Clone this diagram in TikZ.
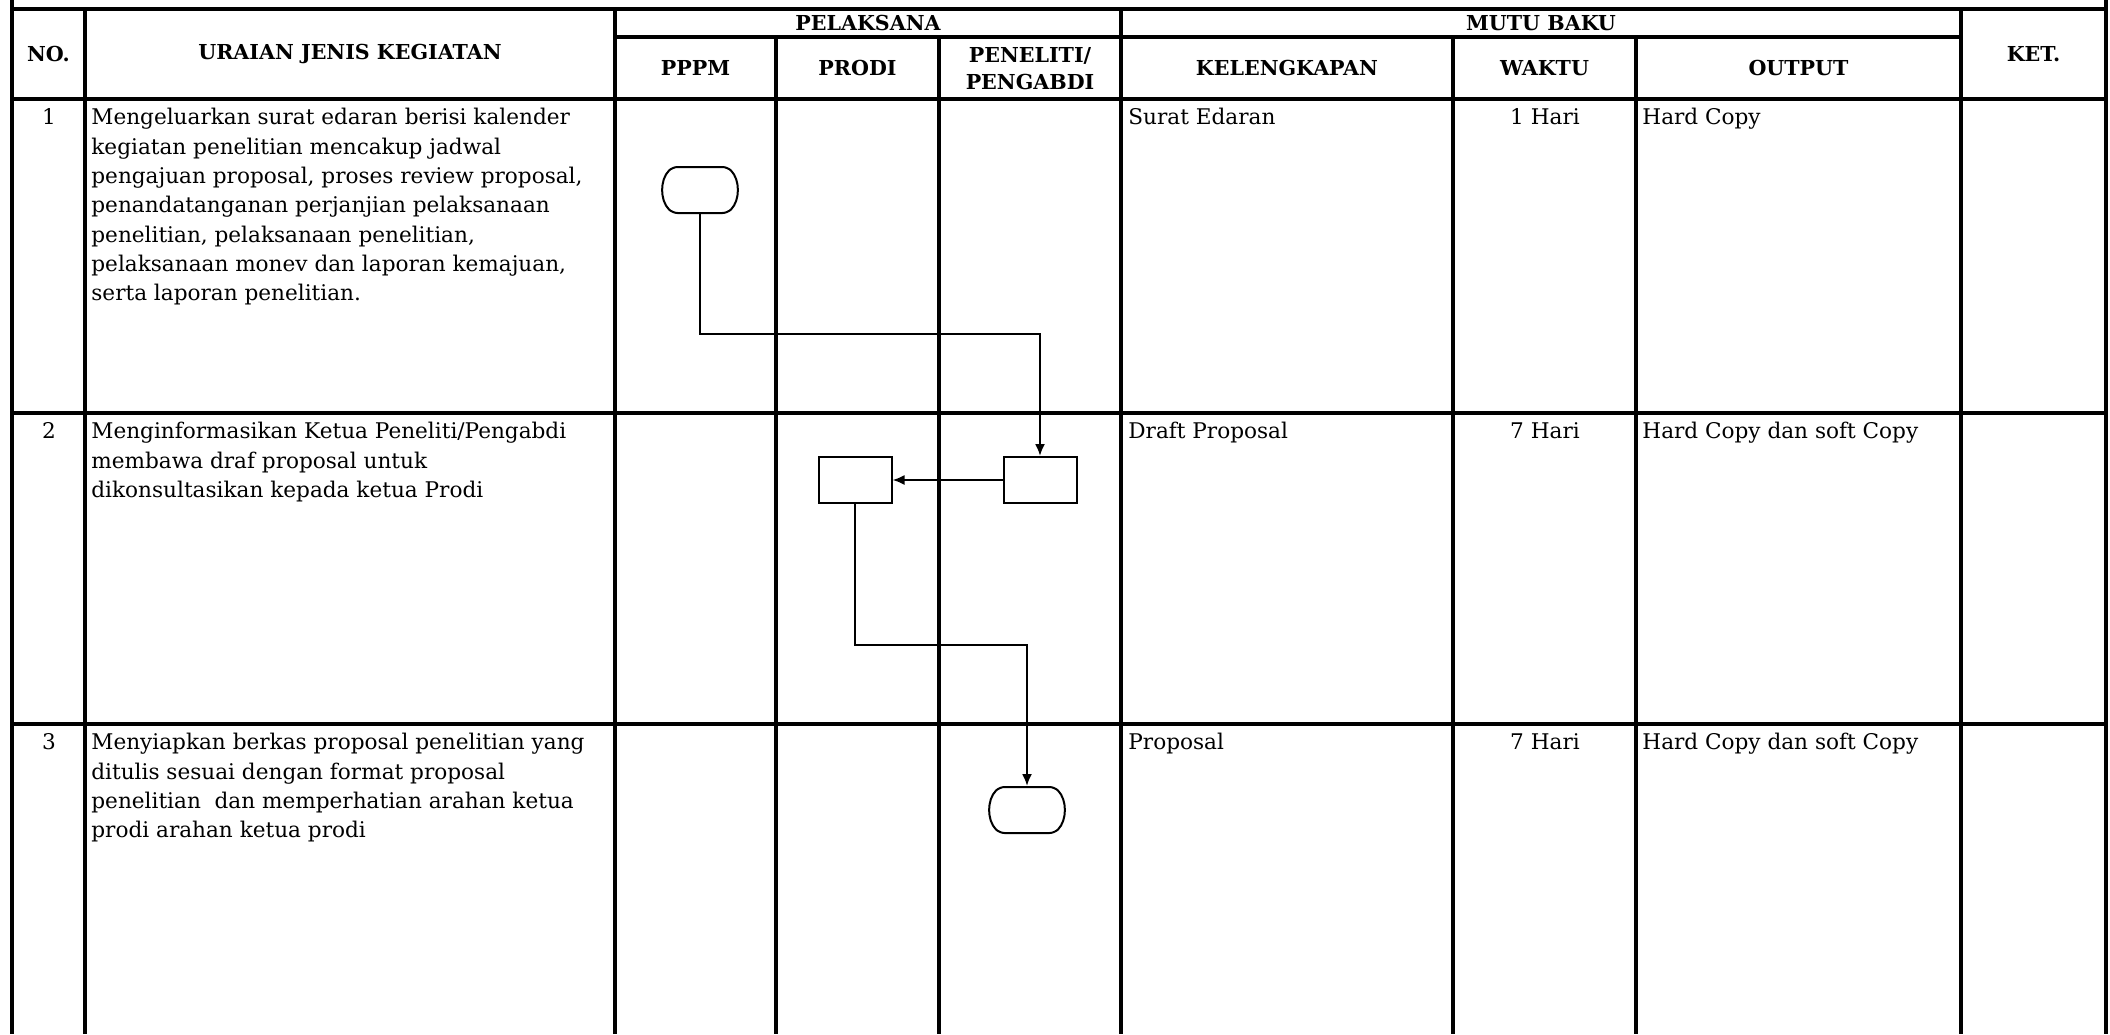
\documentclass[tikz,border=0pt]{standalone}
\usepackage{fontspec}
\setmainfont{DejaVu Serif}
\usetikzlibrary{arrows.meta,shapes.misc,positioning}

\tikzset{
  gridline/.style={line width=1.6pt},
  flow/.style={line width=1pt,-{Latex[length=6pt,width=5pt]}},
  terminal/.style={draw,line width=1pt,rounded rectangle,rounded rectangle arc length=90,
    rounded corners=2.5pt,minimum width=37pt,minimum height=23pt,inner sep=0pt},
  process/.style={draw,line width=1pt,rectangle,minimum width=36.5pt,minimum height=23pt,inner sep=0pt},
  head/.style={font=\fontsize{10.3}{13.5}\selectfont\bfseries,align=center,inner sep=0pt},
  cell/.style={font=\fontsize{10.8}{14.65}\selectfont,align=left,anchor=north west,inner sep=0pt},
  num/.style={font=\fontsize{10.8}{14.65}\selectfont,anchor=north,inner sep=0pt},
}

\begin{document}
\begin{tikzpicture}[x=0.5pt,y=-0.5pt]
    \useasboundingbox (0,0) rectangle (2110,1034);

    % Outer frame and row lines
    \draw[gridline] (12,0) -- (12,1034);
    \draw[gridline] (2106,0) -- (2106,1034);
    \foreach \y in {9,99,413,724}
        \draw[gridline] (12,\y) -- (2106,\y);
    \draw[gridline] (615,37) -- (1961,37);

    % Column lines
    \foreach \x in {85,615,1121,1961}
        \draw[gridline] (\x,9) -- (\x,1034);
    \foreach \x in {776,939,1453,1636}
        \draw[gridline] (\x,37) -- (\x,1034);

    % Header
    \node[head] (hno)   at (48.5,54)  {NO.};
    \node[head] (hdesc) at (350,54)   {URAIAN JENIS KEGIATAN};
    \node[head] (hpel)  at (868,23)   {PELAKSANA};
    \node[head] (hpppm) at (695.5,68) {PPPM};
    \node[head] (hprodi) at (857.5,68) {PRODI};
    \node[head] (hpen)  at (1030,69)  {PENELITI/\\PENGABDI};
    \node[head] (hmutu) at (1541,23)  {MUTU BAKU};
    \node[head] (hkel)  at (1287,68)  {KELENGKAPAN};
    \node[head] (hwaktu) at (1544.5,68) {WAKTU};
    \node[head] (hout)  at (1798.5,68) {OUTPUT};
    \node[head] (hket)  at (2033.5,54) {KET.};

    % Row 1
    \node[num]  (n1) at (49,108)  {1};
    \node[cell] (d1) at (91,108)  {Mengeluarkan surat edaran berisi kalender\\
        kegiatan penelitian mencakup jadwal\\
        pengajuan proposal, proses review proposal,\\
        penandatanganan perjanjian pelaksanaan\\
        penelitian, pelaksanaan penelitian,\\
        pelaksanaan monev dan laporan kemajuan,\\
        serta laporan penelitian.};
    \node[cell] (k1) at (1128,108) {Surat Edaran};
    \node[num]  (w1) at (1545,108) {1 Hari};
    \node[cell] (o1) at (1642,108) {Hard Copy};

    % Row 2
    \node[num]  (n2) at (49,422)  {2};
    \node[cell] (d2) at (91,422)  {Menginformasikan Ketua Peneliti/Pengabdi\\
        membawa draf proposal untuk\\
        dikonsultasikan kepada ketua Prodi};
    \node[cell] (k2) at (1128,422) {Draft Proposal};
    \node[num]  (w2) at (1545,422) {7 Hari};
    \node[cell] (o2) at (1642,422) {Hard Copy dan soft Copy};

    % Row 3
    \node[num]  (n3) at (49,733)  {3};
    \node[cell] (d3) at (91,733)  {Menyiapkan berkas proposal penelitian yang\\
        ditulis sesuai dengan format proposal\\
        penelitian\ \ dan memperhatian arahan ketua\\
        prodi arahan ketua prodi};
    \node[cell] (k3) at (1128,733) {Proposal};
    \node[num]  (w3) at (1545,733) {7 Hari};
    \node[cell] (o3) at (1642,733) {Hard Copy dan soft Copy};

    % Flow symbols
    \node[terminal] (start) at (700,190)  {};
    \node[process]  (draft) at (1040,480) {};
    \node[process]  (konsul) at (855,480) {};
    \node[terminal] (finish) at (1027,810) {};

    % Connectors
    \coordinate (bend1) at (870,334);
    \coordinate (bend2) at (940,645);
    \draw[flow] (start.south) |- (bend1) -| (draft.north);
    \draw[flow] (draft.west) -- (konsul.east);
    \draw[flow] (konsul.south) |- (bend2) -| (finish.north);
\end{tikzpicture}
\end{document}
